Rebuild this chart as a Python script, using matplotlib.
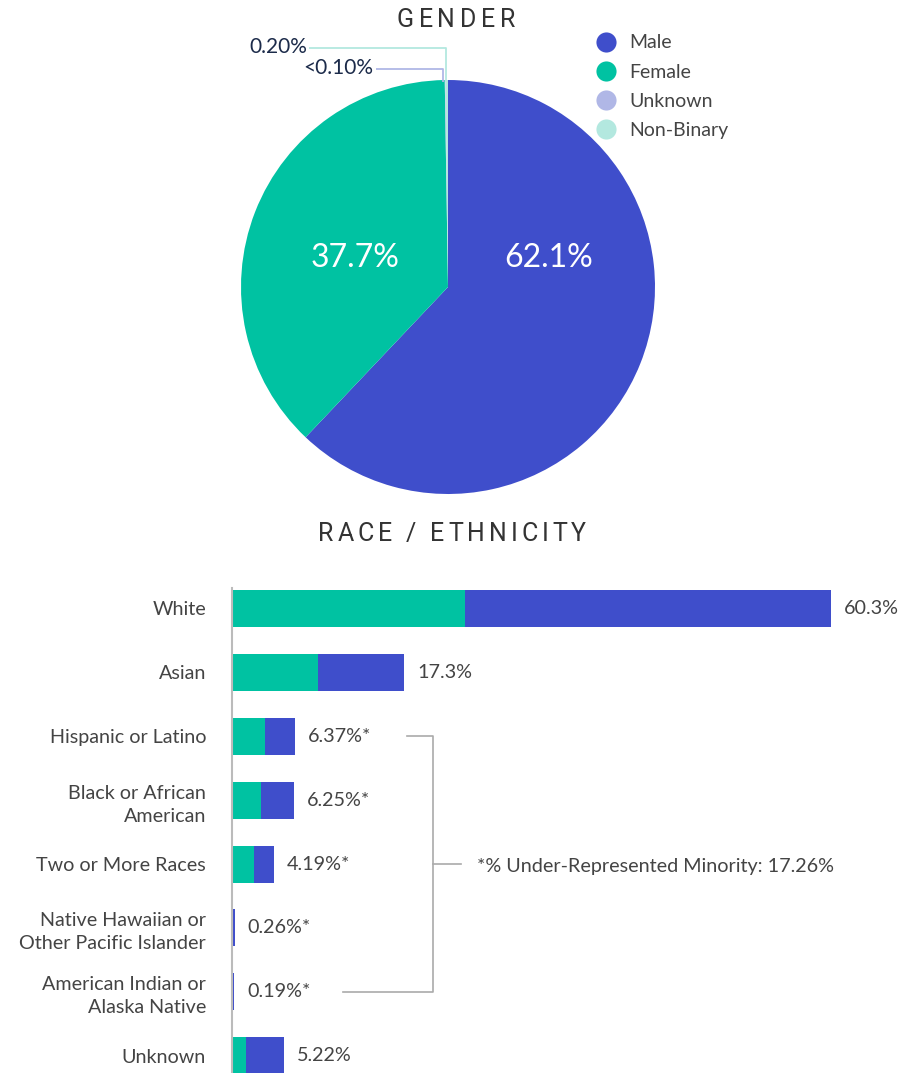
import numpy as np
import matplotlib
matplotlib.use("Agg")
import matplotlib.pyplot as plt
from matplotlib.lines import Line2D
from matplotlib.font_manager import findfont, FontProperties
from matplotlib.ft2font import FT2Font

# ---------------- data ----------------
gender_labels = ["Male", "Female", "Unknown", "Non-Binary"]
gender_values = [62.1, 37.7, 0.05, 0.20]
gender_texts = ["62.1%", "37.7%", "<0.10%", "0.20%"]
gender_colors = ["#3f4ecb", "#00c2a2", "#b0b7e6", "#b3e8df"]

race_categories = ["White", "Asian", "Hispanic or Latino",
                   "Black or African\nAmerican", "Two or More Races",
                   "Native Hawaiian or\nOther Pacific Islander",
                   "American Indian or\nAlaska Native", "Unknown"]
race_female = [23.5, 8.66, 3.32, 2.90, 2.20, 0.14, 0.08, 1.40]
race_male = [36.8, 8.64, 3.05, 3.35, 1.99, 0.12, 0.11, 3.82]
race_totals = [60.3, 17.3, 6.37, 6.25, 4.19, 0.26, 0.19, 5.22]
race_urm = [False, False, True, True, True, True, True, False]
urm_total = 17.26

FEMALE_C = "#00c2a2"
MALE_C = "#3f4ecb"
TXT = "#444444"
FS = 14.2
plt.rcParams['font.family'] = ['Lato', 'DejaVu Sans']

W, H = 912, 1073
fig = plt.figure(figsize=(W / 100, H / 100), dpi=100)


def tracked_title(text, xc, y_base, target_w, size=18, family='Roboto', color='#333333'):
    fp = FontProperties(family=family, size=size)
    font = FT2Font(findfont(fp))
    font.set_size(size, 100)
    advs = [font.load_char(ord(c)).linearHoriAdvance / 65536 for c in text]
    n = len(text)
    spacing = (target_w - sum(advs)) / (n - 1)
    x = xc - target_w / 2
    for c, a in zip(text, advs):
        fig.text(x / W, 1 - y_base / H, c, ha='left', va='baseline',
                 fontsize=size, family=family, color=color)
        x += a + spacing


tracked_title("GENDER", 456, 27, 118)
tracked_title("RACE / ETHNICITY", 452, 541, 268)

# ---------------- pie ----------------
cx, cy, r = 448, 287, 207
axp = fig.add_axes([(cx - r) / W, 1 - (cy + r) / H, 2 * r / W, 2 * r / H])
wedges, _ = axp.pie(gender_values, colors=gender_colors, startangle=90,
                    counterclock=False, wedgeprops=dict(linewidth=0))
axp.set_xlim(-1, 1)
axp.set_ylim(-1, 1)

axp.text(0.488, 0.14, gender_texts[0], ha='center', va='center', color='white', fontsize=23)
axp.text(-0.45, 0.14, gender_texts[1], ha='center', va='center', color='white', fontsize=23)

small = {2: (1.053, -0.36), 3: (1.155, -0.68)}
for i, (lvl, tx) in small.items():
    w = wedges[i]
    th = np.deg2rad((w.theta1 + w.theta2) / 2)
    x0, y0 = np.cos(th), np.sin(th)
    x0 = min(x0, -0.01) - (0.012 if i == 2 else 0.0)
    axp.plot([tx + 0.01, x0, x0], [lvl, lvl, y0 - 0.01], color=gender_colors[i],
             lw=1.3, clip_on=False, solid_capstyle='butt')
    axp.text(tx, lvl + 0.006, gender_texts[i], ha='right', va='center',
             color='#1c2b4a', fontsize=15, clip_on=False)

handles = [Line2D([], [], ls='none', marker='o', markersize=14.5,
                  markerfacecolor=c, markeredgewidth=0) for c in gender_colors]
leg = fig.legend(handles, gender_labels, loc='upper left',
                 bbox_to_anchor=(596 / W, 1 - 34.5 / H), frameon=False, fontsize=14,
                 labelspacing=0.62, handlelength=1.0, handletextpad=0.7,
                 borderpad=0, borderaxespad=0)
for t in leg.get_texts():
    t.set_color(TXT)

# ---------------- bars ----------------
scale = 9.93  # px per percent
axb = fig.add_axes([232 / W, 0, (W - 232) / W, 485 / H])
y = np.arange(len(race_categories))
axb.barh(y, race_female, height=0.58, color=FEMALE_C)
axb.barh(y, race_male, left=race_female, height=0.58, color=MALE_C)
axb.set_xlim(0, (W - 232) / scale)
axb.set_ylim(7.27, -0.32)

for i, tot in enumerate(race_totals):
    lab = f"{tot:g}%" + ("*" if race_urm[i] else "")
    axb.annotate(lab, xy=(tot, i), xytext=(9.4, 0), textcoords='offset points',
                 ha='left', va='center', fontsize=FS, color=TXT)

urm_idx = [i for i, u in enumerate(race_urm) if u]
first, last = urm_idx[0], urm_idx[-1]
mid = (first + last) / 2
xv = 20.25
axb.plot([17.6, xv, xv, 11.2], [first, first, last, last], color='#aaaaaa', lw=1.2,
         clip_on=False)
axb.plot([xv, 23.1], [mid, mid], color='#aaaaaa', lw=1.2, clip_on=False)
axb.text(24.7, mid + 0.04, f"*% Under-Represented Minority: {urm_total}%", ha='left',
         va='center', fontsize=FS, color=TXT)

axb.set_yticks(y, labels=race_categories)
axb.tick_params(axis='y', length=0, pad=18.7, labelsize=FS, labelcolor=TXT)
for lbl in axb.get_yticklabels():
    lbl.set_linespacing(1.42)
axb.set_xticks([])
for s in ['top', 'right', 'bottom']:
    axb.spines[s].set_visible(False)
axb.spines['left'].set_color('#bbbbbb')
axb.spines['left'].set_linewidth(1.5)
axb.patch.set_alpha(0)

fig.savefig("out.png", dpi=100)
